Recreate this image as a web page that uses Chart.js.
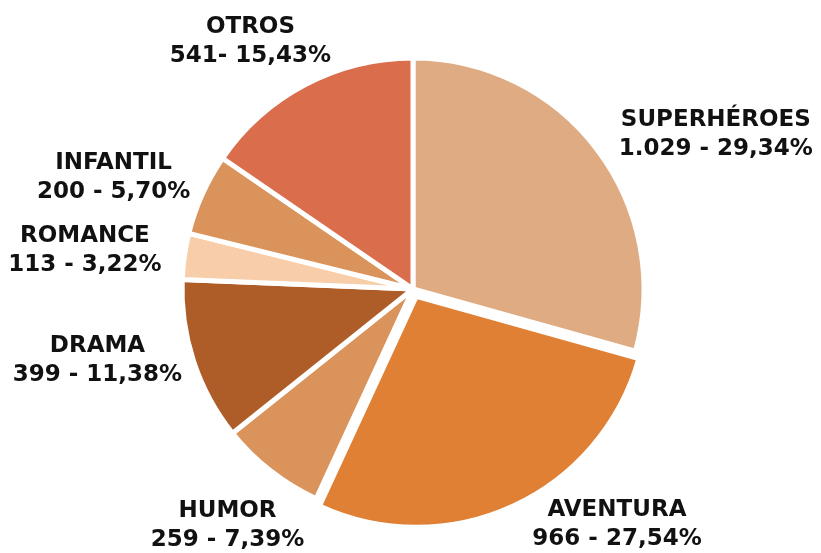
<!DOCTYPE html>
<html>
<head>
<meta charset="utf-8">
<style>
  html, body { margin: 0; padding: 0; background: #fff; }
  #wrap { width: 821px; height: 553px; }
</style>
<script src="https://cdn.jsdelivr.net/npm/chart.js@4"></script>
</head>
<body>
<div id="wrap"><canvas id="pie"></canvas></div>
<script>
const categories = ["SUPERHÉROES", "AVENTURA", "HUMOR", "DRAMA", "ROMANCE", "INFANTIL", "OTROS"];
const values = [1029, 966, 259, 399, 113, 200, 541];
const valueLabels = ["1.029 - 29,34%", "966 - 27,54%", "259 - 7,39%", "399 - 11,38%", "113 - 3,22%", "200 - 5,70%", "541- 15,43%"];

const colors = ["#DEAB83", "#DF8035", "#D9935B", "#AE5D28", "#F8CDAA", "#D9935B", "#DA6D4B"];
// aventura is pulled out a little (chart.js moves the slice by offset/4)
const offsets = [0, 32, 0, 0, 0, 0, 0];
// hand nudges for the outside labels, like the original layout
const labelNudge = [[71, 21], [82, -29], [-6, 7], [-39, -19], [-40, 3], [-34, 8], [-27, 10]];

const outsideLabels = {
  id: "outsideLabels",
  afterDatasetsDraw(chart) {
    const ctx = chart.ctx;
    const arcs = chart.getDatasetMeta(0).data;
    ctx.save();
    ctx.font = "bold 23px 'DejaVu Sans'";
    ctx.fillStyle = "#111";
    ctx.textAlign = "center";
    ctx.textBaseline = "middle";
    arcs.forEach((arc, i) => {
      const mid = (arc.startAngle + arc.endAngle) / 2;
      const d = arc.outerRadius + 60;
      const x = arc.x + Math.cos(mid) * d + labelNudge[i][0];
      const y = arc.y + Math.sin(mid) * d + labelNudge[i][1];
      ctx.fillText(categories[i], x, y - 14.5);
      ctx.fillText(valueLabels[i], x, y + 14.5);
    });
    ctx.restore();
  }
};

new Chart(document.getElementById("pie"), {
  type: "pie",
  data: {
    labels: categories,
    datasets: [{
      data: values,
      backgroundColor: colors,
      borderColor: "#fff",
      borderWidth: 5,
      offset: offsets
    }]
  },
  options: {
    responsive: true,
    maintainAspectRatio: false,
    animation: false,
    radius: 231,
    layout: { padding: { left: 5, right: 0, top: 25, bottom: 0 } },
    plugins: {
      legend: { display: false },
      tooltip: { enabled: false }
    }
  },
  plugins: [outsideLabels]
});
</script>
</body>
</html>
